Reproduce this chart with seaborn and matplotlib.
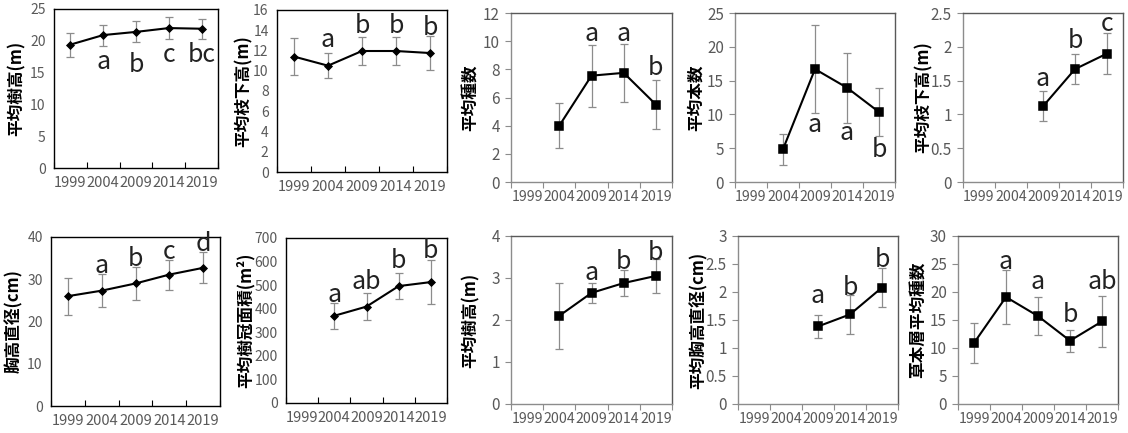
import numpy as np
import pandas as pd
import matplotlib
matplotlib.use("Agg")
import matplotlib.pyplot as plt
import seaborn as sns

sns.set_theme(style="white")
plt.rcParams['font.family'] = ['Noto Sans CJK JP', 'DejaVu Sans']

years = ["1999", "2004", "2009", "2014", "2019"]
nan = np.nan

# panel data (top row then bottom row)
labels = ["平均樹高(m)", "平均枝下高(m)", "平均種数", "平均本数", "平均枝下高(m)",
          "胸高直径(cm)", "平均樹冠面積(m²)", "平均樹高(m)", "平均胸高直径(cm)", "草本層平均種数"]

v1 = [19.4, 20.9, 21.4, 22.0, 21.9]
e1 = [1.9, 1.65, 1.65, 1.75, 1.55]
v2 = [11.4, 10.5, 11.95, 11.95, 11.75]
e2 = [1.8, 1.25, 1.35, 1.4, 1.65]
v3 = [nan, 4.0, 7.55, 7.75, 5.5]
e3 = [nan, 1.6, 2.2, 2.05, 1.72]
v4 = [nan, 4.85, 16.7, 13.95, 10.35]
e4 = [nan, 2.3, 6.5, 5.2, 3.6]
v5 = [nan, nan, 1.12, 1.67, 1.9]
e5 = [nan, nan, 0.225, 0.225, 0.3]
v6 = [26.0, 27.3, 29.0, 31.1, 32.7]
e6 = [4.4, 3.9, 3.8, 3.55, 3.7]
v7 = [nan, 370, 409, 496, 513]
e7 = [nan, 55, 58, 55, 92]
v8 = [nan, 2.1, 2.645, 2.88, 3.05]
e8 = [nan, 0.785, 0.23, 0.315, 0.4]
v9 = [nan, nan, 1.385, 1.6, 2.08]
e9 = [nan, nan, 0.205, 0.35, 0.355]
v10 = [10.9, 19.1, 15.7, 11.3, 14.75]
e10 = [3.6, 4.9, 3.35, 2.0, 4.6]

# significance letters and their y anchors (data units)
l1 = ["", "a", "b", "c", "bc"];   ly1 = [nan, 16.6, 16.2, 17.8, 17.8]
l2 = ["", "a", "b", "b", "b"];    ly2 = [nan, 13.0, 14.4, 14.4, 14.2]
l3 = ["", "", "a", "a", "b"];     ly3 = [nan, nan, 10.5, 10.5, 8.1]
l4 = ["", "", "a", "a", "b"];     ly4 = [nan, nan, 8.4, 7.2, 4.7]
l5 = ["", "", "a", "b", "c"];     ly5 = [nan, nan, 1.53, 2.08, 2.33]
l6 = ["", "a", "b", "c", "d"];    ly6 = [nan, 33.1, 34.9, 36.4, 38.3]
l7 = ["", "a", "ab", "b", "b"];   ly7 = [nan, 460, 512, 601, 643]
l8 = ["", "", "a", "b", "b"];     ly8 = [nan, nan, 3.11, 3.39, 3.59]
l9 = ["", "", "a", "b", "b"];     ly9 = [nan, nan, 1.93, 2.07, 2.58]
l10 = ["", "a", "a", "b", "ab"];  ly10 = [nan, 25.4, 21.7, 15.9, 21.7]

ymax = [25, 16, 12, 25, 2.5, 40, 700, 4, 3, 30]
ystep = [5, 2, 2, 5, 0.5, 10, 100, 1, 0.5, 5]

vals = [v1, v2, v3, v4, v5, v6, v7, v8, v9, v10]
errs = [e1, e2, e3, e4, e5, e6, e7, e8, e9, e10]
lets = [l1, l2, l3, l4, l5, l6, l7, l8, l9, l10]
lys = [ly1, ly2, ly3, ly4, ly5, ly6, ly7, ly8, ly9, ly10]

# layout: pixel boxes (left, top, right, bottom)
boxes = [(54, 9, 218, 168), (277, 10, 447, 172), (511, 13, 672, 182), (735, 13, 895, 182),
         (963, 13, 1123, 182), (51, 237, 220, 406), (286, 238, 447, 403), (511, 236, 672, 404),
         (738, 236, 898, 404), (958, 236, 1118, 404)]
label_dx = [28, 24, 31, 30, 30, 28, 31, 31, 30, 30]
style_a = [True, True, False, False, False, True, True, False, False, False]

W, H = 1128, 433
fig = plt.figure(figsize=(W / 100, H / 100), dpi=100)

for i in range(10):
    l, t, r, b = boxes[i]
    ax = fig.add_axes([l / W, 1 - b / H, (r - l) / W, (b - t) / H])
    df = pd.DataFrame({"year": years, "value": vals[i]})
    diamond = style_a[i]
    x = np.arange(len(years))
    ax.errorbar(x, vals[i], yerr=errs[i], fmt="none", ecolor="#8c8c8c",
                elinewidth=0.9, capsize=3, capthick=0.9, zorder=1)
    sns.pointplot(data=df.dropna(), x="year", y="value", order=years, ax=ax,
                  color="black", marker="D" if diamond else "s",
                  markersize=3.5 if diamond else 5.5, linewidth=1.5,
                  errorbar=None, zorder=3)
    for xi, (txt, yy) in enumerate(zip(lets[i], lys[i])):
        if txt:
            ax.text(xi, yy, txt, ha="center", va="center", fontsize=18,
                    color="#222222", zorder=4)
    ax.set_xlim(-0.5, 4.5)
    ax.set_ylim(0, ymax[i])
    ax.set_yticks(np.arange(0, ymax[i] + ystep[i] / 2, ystep[i]))
    ax.set_yticklabels([f"{t:g}" for t in np.arange(0, ymax[i] + ystep[i] / 2, ystep[i])])
    ax.set_xticks(x)
    ax.set_xticklabels(years)
    ax.set_xticks(np.arange(-0.5, 5, 1.0), minor=True)
    ax.set_xlabel("")
    ax.set_ylabel(labels[i], fontsize=12, fontweight="bold", color="black")
    ax.yaxis.set_label_coords(-label_dx[i] / (r - l), 0.5)
    fs = 10.5 if diamond else 10.2
    ax.tick_params(axis="x", which="major", length=0, pad=6, labelsize=fs, labelcolor="#595959")
    if diamond:
        ax.tick_params(axis="x", which="minor", direction="in", length=4, width=0.8, color="black")
        ax.tick_params(axis="y", which="major", direction="in", length=3, width=0.8,
                       color="black", pad=6, labelsize=10, labelcolor="#595959")
        for s in ax.spines.values():
            s.set_color("black")
            s.set_linewidth(1.0)
    else:
        ax.tick_params(axis="x", which="minor", direction="out", length=4, width=0.8,
                       color="#8c8c8c", bottom=True)
        ax.tick_params(axis="y", which="major", direction="out", length=4, width=0.8,
                       color="#8c8c8c", pad=4, labelsize=11, labelcolor="#595959", left=True)
        ax.spines["left"].set_color("#8c8c8c")
        ax.spines["bottom"].set_color("#8c8c8c")
        ax.spines["top"].set_color("#595959")
        ax.spines["right"].set_color("#595959")
        for s in ax.spines.values():
            s.set_linewidth(1.0)
    ax.tick_params(axis="x", which="minor", bottom=True)
    ax.grid(False)

fig.savefig("out.png", dpi=100)
